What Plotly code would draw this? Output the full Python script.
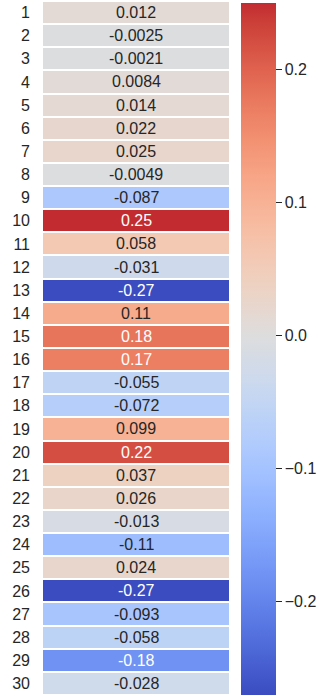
import numpy as np
import plotly.graph_objects as go

# Row labels and the single column of values shown in the heatmap
row_labels = [str(i) for i in range(1, 31)]
values = [0.012, -0.0025, -0.0021, 0.0084, 0.014, 0.022, 0.025, -0.0049,
          -0.087, 0.25, 0.058, -0.031, -0.27, 0.11, 0.18, 0.17, -0.055,
          -0.072, 0.099, 0.22, 0.037, 0.026, -0.013, -0.11, 0.024, -0.27,
          -0.093, -0.058, -0.18, -0.028]
cbar_ticks = [-0.2, -0.1, 0.0, 0.1, 0.2]

# Diverging "coolwarm" control points (position, r, g, b)
COOLWARM = [
    (0.0, 59, 76, 192), (0.03125, 68, 90, 204), (0.0625, 77, 104, 215),
    (0.09375, 87, 117, 225), (0.125, 98, 130, 234), (0.15625, 108, 142, 241),
    (0.1875, 119, 154, 247), (0.21875, 130, 165, 251), (0.25, 141, 176, 254),
    (0.28125, 152, 185, 255), (0.3125, 163, 194, 255), (0.34375, 174, 201, 253),
    (0.375, 184, 208, 249), (0.40625, 194, 213, 244), (0.4375, 204, 217, 238),
    (0.46875, 213, 219, 230), (0.5, 221, 221, 221), (0.53125, 229, 216, 209),
    (0.5625, 236, 211, 197), (0.59375, 241, 204, 185), (0.625, 245, 196, 173),
    (0.65625, 247, 187, 160), (0.6875, 247, 177, 148), (0.71875, 247, 166, 135),
    (0.75, 244, 154, 123), (0.78125, 241, 141, 111), (0.8125, 236, 127, 99),
    (0.84375, 229, 112, 88), (0.875, 222, 96, 77), (0.90625, 213, 80, 66),
    (0.9375, 203, 62, 56), (0.96875, 192, 40, 47), (1.0, 180, 4, 38),
]
_pos = np.array([c[0] for c in COOLWARM])
_rgb = np.array([c[1:] for c in COOLWARM], dtype=float)


def coolwarm(t):
    return tuple(np.interp(t, _pos, _rgb[:, k]) for k in range(3))


# Colormap centred on zero, trimmed to the data range
vmin, vmax = min(values), max(values)
vrange = max(vmax, -vmin)
tmin = 0.5 + vmin / (2 * vrange)
tmax = 0.5 + vmax / (2 * vrange)


def value_rgb(v):
    return coolwarm(0.5 + v / (2 * vrange))


colorscale = []
for p in np.linspace(0, 1, 65):
    r, g, b = coolwarm(tmin + p * (tmax - tmin))
    colorscale.append([float(p), f"rgb({r:.0f},{g:.0f},{b:.0f})"])


def luminance(rgb):
    lin = []
    for c in rgb:
        c = c / 255.0
        lin.append(c / 12.92 if c <= 0.04045 else ((c + 0.055) / 1.055) ** 2.4)
    return 0.2126 * lin[0] + 0.7152 * lin[1] + 0.0722 * lin[2]


FONT = "Arial, Liberation Sans, sans-serif"
DARK = "#262626"
FS = 16
W, H = 321, 696

fig = go.Figure(
    go.Heatmap(
        z=[[v] for v in values],
        x=[0],
        y=row_labels,
        zmin=vmin,
        zmax=vmax,
        colorscale=colorscale,
        ygap=2,
        xgap=0,
        hoverinfo="skip",
        colorbar=dict(
            thickness=35,
            thicknessmode="pixels",
            len=692,
            lenmode="pixels",
            x=241 / W,
            xanchor="left",
            xpad=0,
            y=1 - 349 / H,
            yanchor="middle",
            ypad=0,
            outlinewidth=0,
            tickvals=cbar_ticks,
            tickformat=".1f",
            ticks="outside",
            ticklen=6,
            tickwidth=1,
            tickcolor=DARK,
            tickfont=dict(family=FONT, size=FS, color=DARK),
        ),
    )
)

# Value labels, one per cell, placed by category index
for i, v in enumerate(values):
    text_color = DARK if luminance(value_rgb(v)) > 0.408 else "white"
    fig.add_annotation(
        x=0, y=i, text=f"{v:.2g}", showarrow=False,
        font=dict(family=FONT, size=FS, color=text_color),
    )

fig.update_layout(
    width=W,
    height=H,
    margin=dict(l=0, r=0, t=0, b=0),
    paper_bgcolor="white",
    plot_bgcolor="white",
    showlegend=False,
    xaxis=dict(domain=[43 / W, 229 / W], showticklabels=False, showgrid=False,
               zeroline=False, ticks=""),
    yaxis=dict(domain=[1 / H, 695 / H], autorange="reversed", type="category",
               showgrid=False, zeroline=False, ticks="",
               ticklabelstandoff=12,
               tickfont=dict(family=FONT, size=FS, color=DARK)),
)

fig.write_html("out.html")
